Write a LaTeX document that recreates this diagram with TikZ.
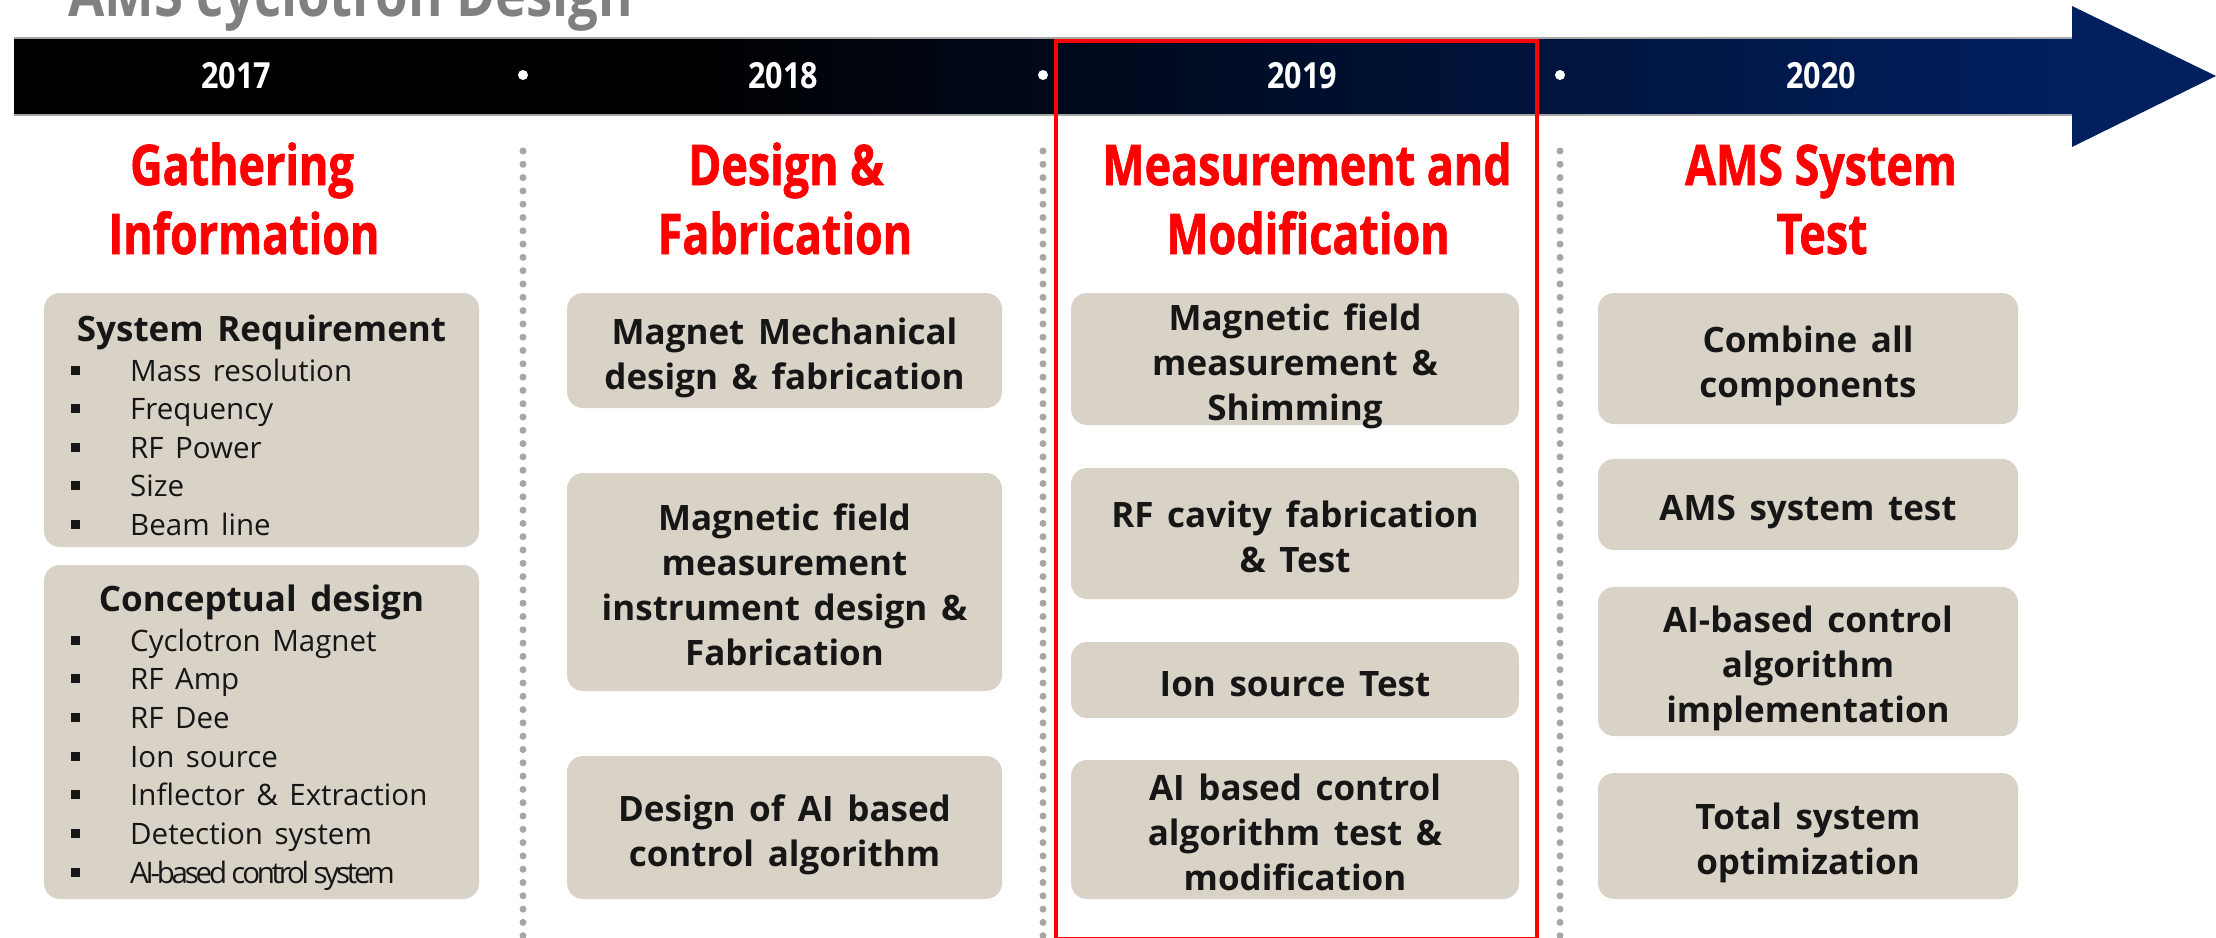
\documentclass[tikz,border=0pt]{standalone}
\usepackage{fontspec}
\setmainfont{Open Sans}
\newfontfamily\headfont[FakeStretch=0.8, BoldFeatures={FakeBold=1.2}]{Open Sans}
\newfontfamily\titlefont[FakeStretch=0.85]{Open Sans}
\newfontfamily\yearfont[FakeStretch=0.85]{Open Sans}
\newfontfamily\boxfont[WordSpace=1.6]{Open Sans}
\newfontfamily\itemfont[WordSpace=1.5]{Open Sans}
\newfontfamily\tightfont[LetterSpace=-11]{Open Sans}

\definecolor{boxfill}{RGB}{217,211,199}
\definecolor{navy}{RGB}{0,32,96}
\definecolor{hred}{RGB}{255,0,0}
\definecolor{dotgray}{RGB}{166,166,166}
\definecolor{titlegray}{RGB}{128,128,128}
\definecolor{ink}{RGB}{22,22,22}

% timeline bar: black on the left, fading to navy towards the arrow head
\pgfdeclarehorizontalshading{barshade}{100bp}{color(0bp)=(black); color(25bp)=(black); color(40bp)=(black); color(71.7bp)=(navy); color(100bp)=(navy)}

\tikzset{
  plainpanel/.style={fill=boxfill, rounded corners=16pt, inner sep=0pt},
  paneltext/.style={inner sep=0pt, align=center, text=ink,
    font=\boxfont\bfseries\fontsize{35}{45}\selectfont},
  heading/.style={anchor=base, text=hred, font=\headfont\bfseries\fontsize{56}{60}\selectfont, inner sep=0pt},
  yearlabel/.style={anchor=base, text=white, font=\yearfont\bfseries\fontsize{36}{40}\selectfont, inner sep=0pt},
  sephole/.style={circle, fill=white, minimum size=10pt, inner sep=0pt},
  divider/.style={dotgray, line width=7pt, line cap=round, dash pattern=on 0pt off 13.3pt},
  listhead/.style={anchor=base, text=ink, font=\boxfont\bfseries\fontsize{35}{45}\selectfont, inner sep=0pt},
  listitem/.style={anchor=base west, text=ink, font=\itemfont\fontsize{29.5}{36}\selectfont, inner sep=0pt},
  bullet/.style={fill=ink, minimum size=9pt, inner sep=0pt},
}

% a task panel: name, centre, width, height, lines of text
\newcommand\taskpanel[5]{%
  \node[plainpanel, minimum width=#3, minimum height=#4] (#1) at (#2) {};
  \node[paneltext] (#1-text) at ([yshift=-7pt]#1.center) {\strut #5\strut};
}

\begin{document}
\begin{tikzpicture}[x=1pt, y=-1pt]
\useasboundingbox (0,0) rectangle (2216,937);
\clip (0,0) rectangle (2216,937);

% page title, partly above the top edge
\node[anchor=base west, inner sep=0pt, text=titlegray, font=\titlefont\bfseries\fontsize{62}{66}\selectfont] (title) at (68,16) {AMS cyclotron Design};

% timeline arrow
\path[shading=barshade] (14,38) -- (2072,38) -- (2072,6) -- (2216,76) -- (2072,147) -- (2072,115) -- (14,115) -- cycle;
\draw[gray!70, line width=1.2pt] (14,38) -- (2072,38);
\draw[gray!70, line width=1.2pt] (14,115) -- (2072,115);

\node[yearlabel] (y2017) at (236,88) {2017};
\node[yearlabel] (y2018) at (783,88) {2018};
\node[yearlabel] (y2019) at (1302,88) {2019};
\node[yearlabel] (y2020) at (1821,88) {2020};

\node[sephole] (s1) at (523,75) {};
\node[sephole] (s2) at (1043,75) {};
\node[sephole] (s3) at (1560,75) {};

% dotted dividers between the years
\draw[divider] (523,151) -- (523,940);
\draw[divider] (1043,151) -- (1043,940);
\draw[divider] (1560,151) -- (1560,940);

% column headings
\node[heading] (h1a) at (242,185) {Gathering};
\node[heading] (h1b) at (244,254) {Information};
\node[heading] (h2a) at (786,185) {Design \&};
\node[heading] (h2b) at (785,254) {Fabrication};
\node[heading] (h3a) at (1307,185) {Measurement and};
\node[heading] (h3b) at (1308,254) {Modification};
\node[heading] (h4a) at (1821,185) {AMS System};
\node[heading] (h4b) at (1822,254) {Test};

% 2017
\node[plainpanel, minimum width=435pt, minimum height=254pt] (b11) at (261.5,420) {};
\node[listhead] (r0) at (261.5,341) {System Requirement};
\foreach \t [count=\i] in {Mass resolution, Frequency, RF Power, Size, Beam line}{
  \node[bullet] (rb\i) at (75,{381+38.5*(\i-1)-11}) {};
  \node[listitem] (ri\i) at (130,{381+38.5*(\i-1)}) {\t};
}
\node[plainpanel, minimum width=435pt, minimum height=334pt] (b12) at (261.5,732) {};
\node[listhead] (c0) at (261.5,611) {Conceptual design};
\foreach \t [count=\i] in {Cyclotron Magnet, RF Amp, RF Dee, Ion source, Inflector \& Extraction, Detection system}{
  \node[bullet] (cb\i) at (75,{651+38.7*(\i-1)-11}) {};
  \node[listitem] (ci\i) at (130,{651+38.7*(\i-1)}) {\t};
}
\node[bullet] (cb7) at (75,{651+38.7*6-11}) {};
\node[listitem, font=\tightfont\fontsize{29.5}{36}\selectfont] (ci7) at (130,{651+38.7*6}) {AI-based control system};

% 2018
\taskpanel{b21}{784.5,350.5}{435pt}{115pt}{Magnet Mechanical\\design \& fabrication}
\taskpanel{b22}{784.5,582}{435pt}{218pt}{Magnetic field\\measurement\\instrument design \&\\Fabrication}
\taskpanel{b23}{784.5,827.5}{435pt}{143pt}{Design of AI based\\control algorithm}

% 2019
\taskpanel{b31}{1295,359}{448pt}{132pt}{Magnetic field\\measurement \&\\Shimming}
\taskpanel{b32}{1295,533.5}{448pt}{131pt}{RF cavity fabrication\\\& Test}
\taskpanel{b33}{1295,680}{448pt}{76pt}{Ion source Test}
\taskpanel{b34}{1295,829.5}{448pt}{139pt}{AI based control\\algorithm test \&\\modification}

% 2020
\taskpanel{b41}{1808,358.5}{420pt}{131pt}{Combine all\\components}
\taskpanel{b42}{1808,504.5}{420pt}{91pt}{AMS system test}
\taskpanel{b43}{1808,661.5}{420pt}{149pt}{AI-based control\\algorithm\\implementation}
\taskpanel{b44}{1808,836}{420pt}{126pt}{Total system\\optimization}

% current year highlight
\draw[hred, line width=4pt] (1056,41) rectangle (1537,939);
\end{tikzpicture}
\end{document}
